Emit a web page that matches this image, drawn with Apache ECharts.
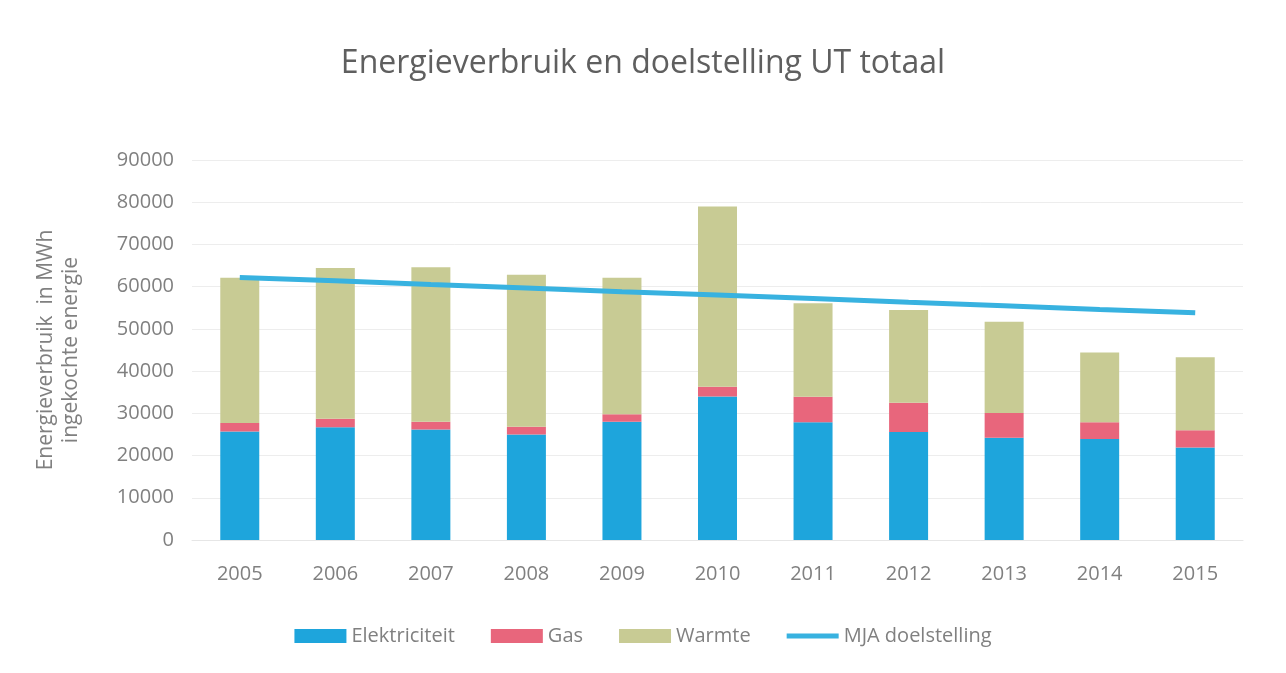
<!DOCTYPE html>
<html>
<head>
<meta charset="utf-8">
<script src="https://cdn.jsdelivr.net/npm/echarts@6/dist/echarts.min.js"></script>
<style>
html,body{margin:0;padding:0;background:#fff;}
#chart{width:1286px;height:673px;}
</style>
</head>
<body>
<div id="chart"></div>
<script>
const categories = ['2005','2006','2007','2008','2009','2010','2011','2012','2013','2014','2015'];
const elektriciteit = [25700, 26700, 26200, 25000, 28000, 34000, 27900, 25600, 24200, 23900, 21900];
const gas = [2000, 2000, 1800, 1800, 1800, 2300, 6000, 6900, 5900, 4000, 4100];
const warmte = [34400, 35700, 36600, 36000, 32300, 42700, 22200, 22000, 21600, 16500, 17300];
const mjaDoelstelling = [62200, 61400, 60500, 59700, 58800, 58000, 57200, 56300, 55500, 54600, 53800];
const yTicks = [0, 10000, 20000, 30000, 40000, 50000, 60000, 70000, 80000, 90000];

const font = '"Open Sans", "Noto Sans", sans-serif';
const textGrey = '#808080';
const chart = echarts.init(document.getElementById('chart'));
chart.setOption({
  backgroundColor: '#ffffff',
  animation: false,
  title: {
    text: 'Energieverbruik en doelstelling UT totaal',
    left: 'center',
    top: 43,
    textStyle: { fontFamily: font, fontSize: 32, fontWeight: 'normal', color: '#5f5f5f' }
  },
  legend: {
    bottom: 22,
    left: 'center',
    itemWidth: 52,
    itemHeight: 14,
    itemGap: 36,
    textStyle: { fontFamily: font, fontSize: 20, color: textGrey },
    data: [
      { name: 'Elektriciteit', icon: 'rect' },
      { name: 'Gas', icon: 'rect' },
      { name: 'Warmte', icon: 'rect' },
      { name: 'MJA doelstelling', icon: 'path://M0,0 L52,0 L52,5 L0,5 Z' }
    ]
  },
  grid: { left: 192, right: 43, top: 160, bottom: 133 },
  xAxis: {
    type: 'category',
    data: categories,
    axisTick: { show: false },
    axisLine: { lineStyle: { color: '#e6e6e6' } },
    axisLabel: { fontFamily: font, fontSize: 20, color: textGrey, margin: 24 }
  },
  yAxis: {
    type: 'value',
    min: yTicks[0],
    max: yTicks[yTicks.length - 1],
    interval: yTicks[1] - yTicks[0],
    name: 'Energieverbruik  in MWh\ningekochte energie',
    nameLocation: 'middle',
    nameGap: 108,
    nameTextStyle: { fontFamily: font, fontSize: 21, color: textGrey, lineHeight: 25 },
    axisLine: { show: false },
    axisTick: { show: false },
    splitLine: { lineStyle: { color: '#ededed' } },
    axisLabel: { fontFamily: font, fontSize: 20, color: textGrey, margin: 18, formatter: function (v) { return String(v); } }
  },
  series: [
    { name: 'Elektriciteit', type: 'bar', stack: 'total', barWidth: 39, data: elektriciteit, itemStyle: { color: '#1ea5dc' } },
    { name: 'Gas', type: 'bar', stack: 'total', data: gas, itemStyle: { color: '#e8667c' } },
    { name: 'Warmte', type: 'bar', stack: 'total', data: warmte, itemStyle: { color: '#c8cb94' } },
    { name: 'MJA doelstelling', type: 'line', data: mjaDoelstelling, symbol: 'none', z: 5,
      lineStyle: { color: '#38b2e0', width: 5 }, itemStyle: { color: '#38b2e0' } }
  ]
});
</script>
</body>
</html>
